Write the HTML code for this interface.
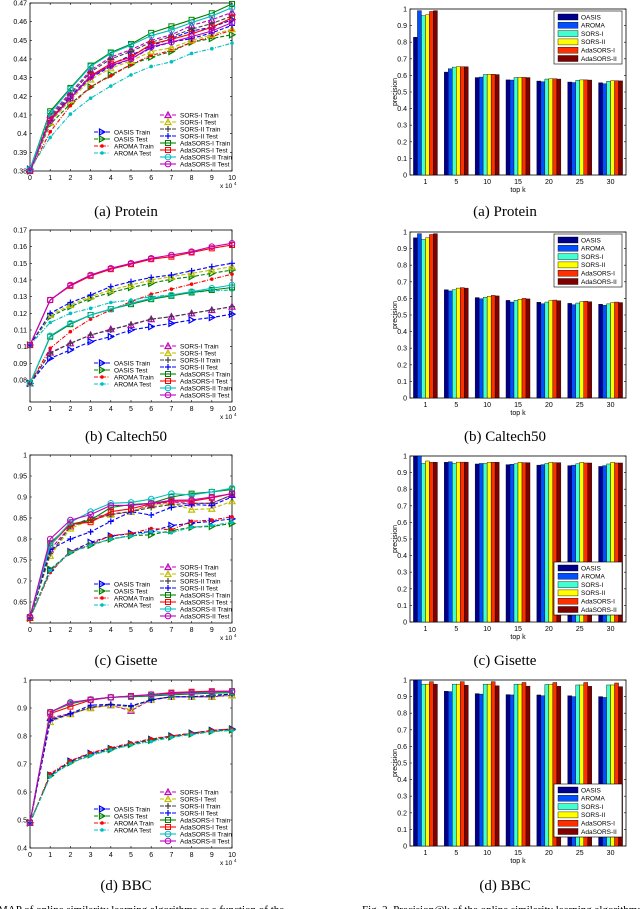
<!DOCTYPE html>
<html><head><meta charset="utf-8">
<style>
html,body{margin:0;padding:0;background:#fff;width:640px;height:909px;overflow:hidden}
svg{display:block}
text{font-family:"Liberation Sans",sans-serif}
.cap{font-family:"Liberation Serif",serif}
</style></head>
<body>
<svg id="fig" width="640" height="909" viewBox="0 0 640 909" xmlns="http://www.w3.org/2000/svg">
<text class="cap" x="126" y="216" font-size="15" text-anchor="middle">(a) Protein</text>
<text class="cap" x="505" y="216" font-size="15" text-anchor="middle">(a) Protein</text>
<text class="cap" x="126" y="441" font-size="15" text-anchor="middle">(b) Caltech50</text>
<text class="cap" x="505" y="441" font-size="15" text-anchor="middle">(b) Caltech50</text>
<text class="cap" x="126" y="665" font-size="15" text-anchor="middle">(c) Gisette</text>
<text class="cap" x="505" y="665" font-size="15" text-anchor="middle">(c) Gisette</text>
<text class="cap" x="126" y="890" font-size="15" text-anchor="middle">(d) BBC</text>
<text class="cap" x="505" y="890" font-size="15" text-anchor="middle">(d) BBC</text>
<text class="cap" x="-2" y="913" font-size="11">MAP of online similarity learning algorithms as a function of the</text>
<text class="cap" x="362" y="913" font-size="11">Fig. 2.   Precision@k of the online similarity learning algorithms o</text>
</svg>
<script>
// ---- line chart data ----
const xSteps = [0,1,2,3,4,5,6,7,8,9,10];
const seriesNames = ["OASIS Train","OASIS Test","AROMA Train","AROMA Test","SORS-I Train","SORS-I Test","SORS-II Train","SORS-II Test","AdaSORS-I Train","AdaSORS-I Test","AdaSORS-II Train","AdaSORS-II Test"];
const proteinMAP = [
 [0.381,0.408,0.420,0.431,0.437,0.442,0.447,0.451,0.455,0.457,0.461],
 [0.380,0.405,0.416,0.425,0.4315,0.437,0.441,0.444,0.449,0.451,0.453],
 [0.380,0.401,0.415,0.425,0.431,0.437,0.442,0.4445,0.449,0.452,0.4555],
 [0.381,0.398,0.4105,0.419,0.4255,0.4315,0.436,0.4385,0.443,0.4455,0.4485],
 [0.381,0.410,0.422,0.434,0.441,0.445,0.450,0.453,0.458,0.461,0.465],
 [0.380,0.406,0.418,0.429,0.435,0.439,0.444,0.446,0.450,0.453,0.456],
 [0.381,0.409,0.421,0.433,0.440,0.444,0.449,0.452,0.456,0.459,0.463],
 [0.380,0.407,0.419,0.430,0.436,0.440,0.446,0.449,0.451,0.454,0.458],
 [0.381,0.412,0.4245,0.4365,0.4435,0.448,0.454,0.4575,0.461,0.4645,0.4695],
 [0.380,0.408,0.419,0.431,0.4375,0.441,0.448,0.4505,0.4535,0.457,0.462],
 [0.381,0.411,0.424,0.436,0.443,0.4475,0.4525,0.4555,0.4595,0.463,0.4675],
 [0.380,0.407,0.419,0.4305,0.4365,0.440,0.4465,0.449,0.452,0.455,0.4595]
];
const caltechMAP = [
 [0.078,0.093,0.098,0.103,0.106,0.110,0.112,0.114,0.116,0.1175,0.1195],
 [0.101,0.118,0.124,0.129,0.1325,0.1355,0.138,0.1405,0.142,0.144,0.146],
 [0.078,0.099,0.109,0.1165,0.122,0.127,0.1315,0.1345,0.1375,0.1405,0.1435],
 [0.101,0.1145,0.120,0.123,0.1265,0.128,0.130,0.131,0.1325,0.1335,0.134],
 [0.078,0.0965,0.102,0.107,0.1105,0.113,0.1165,0.118,0.120,0.122,0.124],
 [0.101,0.119,0.125,0.130,0.134,0.137,0.140,0.142,0.144,0.146,0.148],
 [0.078,0.096,0.102,0.107,0.110,0.1135,0.1165,0.118,0.120,0.122,0.124],
 [0.101,0.120,0.1265,0.131,0.136,0.139,0.1415,0.143,0.1455,0.148,0.150],
 [0.078,0.106,0.1135,0.119,0.1225,0.1255,0.1285,0.1305,0.1325,0.134,0.1355],
 [0.101,0.128,0.1365,0.1425,0.1465,0.1495,0.1525,0.154,0.1565,0.159,0.161],
 [0.078,0.1065,0.114,0.119,0.1225,0.126,0.129,0.131,0.133,0.135,0.137],
 [0.101,0.128,0.137,0.143,0.147,0.150,0.153,0.155,0.157,0.160,0.162]
];
const gisetteMAP = [
 [0.612,0.725,0.77,0.792,0.807,0.813,0.818,0.832,0.838,0.842,0.848],
 [0.612,0.728,0.768,0.785,0.80,0.808,0.81,0.82,0.828,0.83,0.837],
 [0.612,0.72,0.77,0.787,0.808,0.813,0.825,0.822,0.842,0.845,0.853],
 [0.612,0.725,0.768,0.786,0.80,0.807,0.818,0.815,0.828,0.832,0.84],
 [0.612,0.775,0.83,0.85,0.86,0.865,0.882,0.888,0.885,0.885,0.905],
 [0.612,0.76,0.825,0.845,0.858,0.865,0.88,0.885,0.87,0.872,0.89],
 [0.612,0.765,0.83,0.845,0.858,0.865,0.875,0.882,0.885,0.885,0.905],
 [0.612,0.775,0.80,0.817,0.842,0.865,0.857,0.875,0.882,0.88,0.90],
 [0.612,0.79,0.835,0.845,0.875,0.882,0.885,0.90,0.908,0.912,0.918],
 [0.612,0.785,0.835,0.84,0.865,0.872,0.884,0.89,0.89,0.898,0.908],
 [0.615,0.785,0.84,0.865,0.885,0.887,0.895,0.908,0.905,0.912,0.921],
 [0.615,0.80,0.845,0.858,0.88,0.88,0.885,0.892,0.893,0.90,0.908]
];
const bbcMAP = [
 [0.49,0.66,0.71,0.738,0.755,0.772,0.788,0.80,0.81,0.82,0.825],
 [0.49,0.658,0.705,0.733,0.752,0.77,0.785,0.797,0.807,0.817,0.822],
 [0.49,0.665,0.712,0.74,0.758,0.775,0.79,0.80,0.81,0.82,0.825],
 [0.49,0.655,0.703,0.73,0.75,0.768,0.78,0.795,0.805,0.815,0.82],
 [0.49,0.865,0.88,0.90,0.91,0.89,0.93,0.94,0.94,0.94,0.945],
 [0.49,0.85,0.878,0.90,0.91,0.895,0.93,0.94,0.94,0.94,0.945],
 [0.49,0.86,0.878,0.903,0.912,0.905,0.93,0.94,0.94,0.94,0.95],
 [0.49,0.855,0.88,0.91,0.913,0.908,0.928,0.94,0.94,0.945,0.95],
 [0.49,0.885,0.915,0.93,0.938,0.94,0.943,0.947,0.95,0.953,0.955],
 [0.49,0.88,0.905,0.928,0.938,0.943,0.948,0.955,0.958,0.96,0.96],
 [0.49,0.885,0.918,0.93,0.938,0.942,0.946,0.95,0.953,0.956,0.958],
 [0.49,0.885,0.92,0.93,0.938,0.942,0.948,0.952,0.955,0.958,0.96]
];
const proteinTicks = ["0.38","0.39","0.4","0.41","0.42","0.43","0.44","0.45","0.46","0.47"];
const caltechTicks = ["0.08","0.09","0.1","0.11","0.12","0.13","0.14","0.15","0.16","0.17"];
const gisetteTicks = ["0.65","0.7","0.75","0.8","0.85","0.9","0.95","1"];
const bbcTicks = ["0.4","0.5","0.6","0.7","0.8","0.9","1"];
// ---- bar chart data ----
const topK = ["1","5","10","15","20","25","30"];
const methods = ["OASIS","AROMA","SORS-I","SORS-II","AdaSORS-I","AdaSORS-II"];
const proteinPrec = [[.83,.99,.96,.965,.985,.99],[.62,.64,.65,.652,.652,.652],[.587,.59,.605,.607,.607,.605],[.573,.572,.587,.588,.588,.587],[.566,.562,.578,.58,.58,.578],[.56,.557,.57,.573,.573,.572],[.556,.55,.565,.568,.568,.567]];
const caltechPrec = [[.965,.99,.955,.965,.985,.99],[.652,.645,.652,.662,.665,.662],[.605,.598,.607,.613,.618,.615],[.588,.578,.588,.595,.6,.597],[.577,.568,.578,.587,.59,.586],[.57,.562,.572,.58,.583,.58],[.565,.558,.567,.575,.578,.575]];
const gisettePrec = [[1,1,.955,.97,.962,.962],[.962,.965,.955,.963,.963,.963],[.952,.955,.955,.962,.962,.962],[.948,.95,.953,.962,.96,.96],[.945,.948,.955,.962,.96,.96],[.942,.945,.953,.962,.958,.958],[.937,.942,.952,.962,.958,.958]];
const bbcPrec = [[1,1,.975,.975,.99,.975],[.932,.93,.975,.975,.99,.968],[.918,.915,.975,.975,.99,.965],[.912,.91,.975,.975,.985,.963],[.91,.905,.973,.973,.985,.962],[.905,.9,.97,.97,.985,.962],[.9,.895,.97,.97,.982,.96]];
const precTicks = ["0","0.1","0.2","0.3","0.4","0.5","0.6","0.7","0.8","0.9","1"];

const NS="http://www.w3.org/2000/svg";
const svg=document.getElementById('fig');
function mk(tag,attrs,parent){const e=document.createElementNS(NS,tag);for(const k in attrs)e.setAttribute(k,attrs[k]);(parent||svg).appendChild(e);return e;}
const lineColor=["#0000ff","#008000","#ff0000","#00bfbf","#bf00bf","#bfbf00","#404040","#0000ff","#008000","#ff0000","#00bfbf","#bf00bf"];
const lineDash=["4,2","4,2","4,1.5,1,1.5","4,1.5,1,1.5","4,2","4,2","4,2","4,2","","","",""];
const markerType=["tri-r","tri-r","dot","dot","tri-u","tri-u","plus","plus","sq","sq","circ","circ"];
function marker(g,t,x,y,c){
  let e;
  if(t==="tri-r")e=mk('polygon',{points:`${x-2.5},${y-3} ${x+3},${y} ${x-2.5},${y+3}`,fill:'none',stroke:c,'stroke-width':1.2},g);
  else if(t==="tri-u")e=mk('polygon',{points:`${x-3},${y+2.5} ${x},${y-3} ${x+3},${y+2.5}`,fill:'none',stroke:c,'stroke-width':1.2},g);
  else if(t==="dot")e=mk('circle',{cx:x,cy:y,r:1.8,fill:c},g);
  else if(t==="plus")e=mk('path',{d:`M${x-3},${y}H${x+3}M${x},${y-3}V${y+3}`,stroke:c,'stroke-width':1.2},g);
  else if(t==="sq")e=mk('rect',{x:x-2.5,y:y-2.5,width:5,height:5,fill:'none',stroke:c,'stroke-width':1},g);
  else e=mk('circle',{cx:x,cy:y,r:2.8,fill:'none',stroke:c,'stroke-width':1},g);
  
  
}
function lineChart(id,data,ticks,tickStart,tickStep,ymin,ymax,top,bottom){
  const x0=30,x1=232;
  const g=mk('g',{});
  
  
  const X=v=>x0+(v-xSteps[0])/(xSteps[xSteps.length-1]-xSteps[0])*(x1-x0);
  const Y=v=>bottom-(v-ymin)/(ymax-ymin)*(bottom-top);
  const box=mk('rect',{x:x0,y:top,width:x1-x0,height:bottom-top,fill:'#fff',stroke:'#000','stroke-width':0.8},g);
  
  
  ticks.forEach((t,i)=>{const v=tickStart+i*tickStep;const y=Y(v);
    mk('path',{d:`M${x0},${y}h2M${x1},${y}h-2`,stroke:'#000','stroke-width':0.6},g);
    const tx=mk('text',{x:x0-3,y:y+2.5,'font-size':7,'text-anchor':'end'},g);tx.textContent=t;
    
    });
  xSteps.forEach(v=>{const x=X(v);
    mk('path',{d:`M${x},${bottom}v-2M${x},${top}v2`,stroke:'#000','stroke-width':0.6},g);
    const tx=mk('text',{x:x,y:bottom+9,'font-size':7,'text-anchor':'middle'},g);tx.textContent=String(v);
    
    });
  const ex=mk('text',{x:220,y:bottom+17,'font-size':6.5},g);ex.textContent='x 10';
  
  
  const ex2=mk('text',{x:234,y:bottom+14,'font-size':4.5},g);ex2.textContent='4';
  
  
  data.forEach((s,si)=>{
    const sg=mk('g',{},g);
    
    
    const pts=s.map((v,i)=>X(xSteps[i])+','+Y(v)).join(' ');
    const pl=mk('polyline',{points:pts,fill:'none',stroke:lineColor[si],'stroke-width':1.1,'stroke-dasharray':lineDash[si]||'none'},sg);
    
    
    s.forEach((v,i)=>marker(sg,markerType[si],X(xSteps[i]),Y(v),lineColor[si]));
  });
  // legends
  const lg=mk('g',{},g);
  
  
  const placeEntry=(si,lx,tx,y)=>{
    mk('line',{x1:lx,y1:y,x2:lx+16,y2:y,stroke:lineColor[si],'stroke-width':1.1,'stroke-dasharray':lineDash[si]||'none'},lg);
    marker(lg,markerType[si],lx+8,y,lineColor[si]);
    const t=mk('text',{x:tx,y:y+2.3,'font-size':6.5},lg);t.textContent=seriesNames[si];
    
    
  };
  for(let i=0;i<4;i++)placeEntry(i,94,114,bottom-39+i*7);
  for(let i=4;i<12;i++)placeEntry(i,160,180,bottom-56+(i-4)*7);
}
lineChart('protein',proteinMAP,proteinTicks,0.38,0.01,0.38,0.47,3,171);
lineChart('caltech',caltechMAP,caltechTicks,0.08,0.01,0.0668,0.17,230,402);
lineChart('gisette',gisetteMAP,gisetteTicks,0.65,0.05,0.6,1.0,455,623);
lineChart('bbc',bbcMAP,bbcTicks,0.4,0.1,0.4,1.0,680,848);

const barColor=["#00008f","#0050ff","#40ffd0","#ffff00","#ff3000","#800000"];
function barChart(id,data,top,bottom,legendTop){
  const x0=410,x1=626;
  const g=mk('g',{});
  
  
  const Y=v=>bottom-v*(bottom-top);
  const gw=(x1-x0)/topK.length;
  const box=mk('rect',{x:x0,y:top,width:x1-x0,height:bottom-top,fill:'#fff',stroke:'#000','stroke-width':0.8},g);
  
  
  precTicks.forEach((t,i)=>{const y=Y(i/10);
    mk('path',{d:`M${x0},${y}h2M${x1},${y}h-2`,stroke:'#000','stroke-width':0.6},g);
    const tx=mk('text',{x:x0-3,y:y+2.5,'font-size':7,'text-anchor':'end'},g);tx.textContent=t;
    
    });
  const bw=4;
  data.forEach((grp,gi)=>{
    const cx=x0+gw*(gi+0.5);
    mk('path',{d:`M${cx},${bottom}v-2`,stroke:'#000','stroke-width':0.6},g);
    const tx=mk('text',{x:cx,y:bottom+9,'font-size':7,'text-anchor':'middle'},g);tx.textContent=topK[gi];
    
    
    grp.forEach((v,mi)=>{
      const bx=cx-bw*3+mi*bw;
      const r=mk('rect',{x:bx,y:Y(v),width:bw,height:bottom-Y(v),fill:barColor[mi],stroke:'#000','stroke-width':0.4},g);
      
      
    });
  });
  const xl=mk('text',{x:(x0+x1)/2,y:bottom+17,'font-size':7,'text-anchor':'middle'},g);xl.textContent='top k';
  
  
  const yl=mk('text',{x:0,y:0,'font-size':7,'text-anchor':'middle',transform:`translate(397,${(top+bottom)/2}) rotate(-90)`},g);yl.textContent='precision';
  
  
  const lg=mk('g',{},g);
  
  
  mk('rect',{x:554,y:legendTop,width:68,height:53,fill:'#fff',stroke:'#000','stroke-width':0.6},lg);
  methods.forEach((m,i)=>{const y=legendTop+3+i*8.3;
    mk('rect',{x:558,y:y,width:20,height:6,fill:barColor[i],stroke:'#000','stroke-width':0.4},lg);
    const t=mk('text',{x:581,y:y+5.3,'font-size':6.5},lg);t.textContent=m;
    
    });
}
barChart('protein',proteinPrec,9,175,11);
barChart('caltech',caltechPrec,232,398,234);
barChart('gisette',gisettePrec,456,622,562);
barChart('bbc',bbcPrec,680,846,784);
</script>
</body></html>
